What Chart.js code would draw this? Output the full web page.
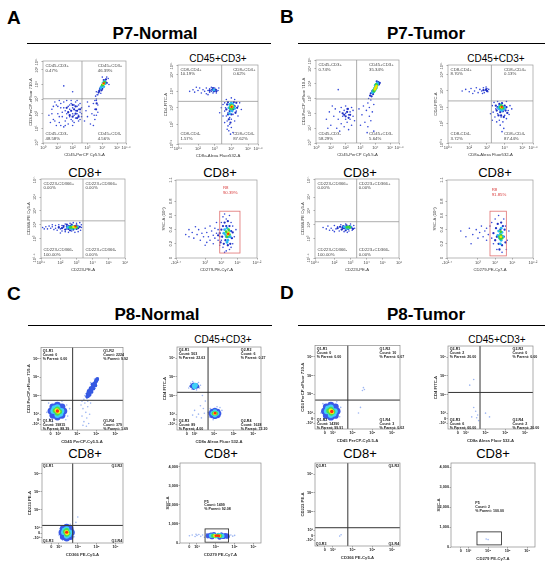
<!DOCTYPE html>
<html>
<head>
<meta charset="utf-8">
<script src="https://cdn.jsdelivr.net/npm/chart.js@4.4.1/dist/chart.umd.min.js"></script>
<style>
  body { margin: 0; background: #fff; width: 550px; height: 564px; position: relative; overflow: hidden; font-family: "Liberation Sans", Arial, sans-serif; }
  .t { position: absolute; white-space: nowrap; color: #000; line-height: 1; }
  .letter { font-weight: bold; font-size: 19px; }
  .panel { font-weight: bold; font-size: 17px; transform: translateX(-50%); }
  .sub { font-size: 10px; transform: translateX(-50%); }
  .sub8 { font-size: 13px; transform: translateX(-50%); }
  .rule { position: absolute; height: 0; border-top: 1.5px solid #000; }
</style>
</head>
<body>
<div class="t letter" style="left:7px;top:8px">A</div>
<div class="t panel" style="left:155px;top:24.6px">P7-Normal</div>
<div class="rule" style="left:27px;top:42.5px;width:244px"></div>
<div class="t letter" style="left:280px;top:7px">B</div>
<div class="t panel" style="left:426px;top:24.6px">P7-Tumor</div>
<div class="rule" style="left:298px;top:42.5px;width:247px"></div>
<div class="t letter" style="left:7px;top:284px">C</div>
<div class="t panel" style="left:157px;top:305.6px">P8-Normal</div>
<div class="rule" style="left:28px;top:324.5px;width:244px"></div>
<div class="t letter" style="left:280px;top:283px">D</div>
<div class="t panel" style="left:426px;top:305.6px">P8-Tumor</div>
<div class="rule" style="left:298px;top:324.5px;width:247px"></div>

<div class="t sub" style="left:218px;top:53.5px">CD45+CD3+</div>
<div class="t sub" style="left:496px;top:53.5px">CD45+CD3+</div>
<div class="t sub8" style="left:85px;top:166px">CD8+</div>
<div class="t sub8" style="left:220px;top:166px">CD8+</div>
<div class="t sub8" style="left:360px;top:166px">CD8+</div>
<div class="t sub8" style="left:495px;top:166px">CD8+</div>
<div class="t sub" style="left:223px;top:334.5px">CD45+CD3+</div>
<div class="t sub" style="left:497px;top:334.5px">CD45+CD3+</div>
<div class="t sub8" style="left:85px;top:447px">CD8+</div>
<div class="t sub8" style="left:221px;top:447px">CD8+</div>
<div class="t sub8" style="left:360px;top:447px">CD8+</div>
<div class="t sub8" style="left:493px;top:447px">CD8+</div>

<script>
// ---- tick values and labels ----
const logTicks1 = [0, 1, 2, 3, 4, 5, 5.6];
const logTicks2 = [0.8, 2, 3, 4, 5, 5.6];
const logTicks3x = [0.8, 2, 3, 4, 5, 6];
const logTicks3y = [1.6, 3, 4, 5, 6, 7.3];
const pdTicks = [1.2, 3, 4, 5, 6.2];
const pdLabels = ['-10²·⁴', '10³', '10⁴', '10⁵', '10⁶·²'];
const sscTicks = [0, 0.2, 0.4, 0.6, 0.8, 1.1];
const bxTicks = [2.6, 3, 4, 5, 6];
const bxLabels = ['0', '10³', '10⁴', '10⁵', '10⁶'];
const byTicks = [2.45, 2.7, 3, 4, 5, 6];
const byLabels = ['-10³', '0', '10³', '10⁴', '10⁵', '10⁶'];
const ssc2Ticks = [0, 1000, 2000, 3000, 4000];
const ssc2Labels = ['0', '1,000', '2,000', '3,000', '4,000'];

// ---- quadrant texts ----
const a1Quad = [['CD45-CD3+', '0.47%'], ['CD45+CD3+', '46.39%'], ['CD45-CD3-', '48.58%'], ['CD45+CD3-', '4.56%']];
const a2Quad = [['CD8-CD4+', '10.19%'], ['CD8+CD4+', '0.62%'], ['CD8-CD4-', '1.57%'], ['CD8+CD4-', '87.62%']];
const a3Quad = [['CD223-CD366+', '0.00%'], ['CD223+CD366+', '0.00%'], ['CD223-CD366-', '100.00%'], ['CD223+CD366-', '0.00%']];
const a4Gate = ['R8', '90.39%'];
const b1Quad = [['CD45-CD3+', '0.74%'], ['CD45+CD3+', '35.34%'], ['CD45-CD3-', '58.29%'], ['CD45+CD3-', '5.64%']];
const b2Quad = [['CD8-CD4+', '8.70%'], ['CD8+CD4+', '0.13%'], ['CD8-CD4-', '3.72%'], ['CD8+CD4-', '87.44%']];
const b3Quad = [['CD223-CD366+', '0.00%'], ['CD223+CD366+', '0.00%'], ['CD223-CD366-', '100.00%'], ['CD223+CD366-', '0.00%']];
const b4Gate = ['R8', '91.85%'];
const c1Quad = [['Q1-R1', 'Count: 0', '% Parent: 0.00'], ['Q1-R2', 'Count: 2224', '% Parent: 9.92'], ['Q1-R3', 'Count: 19815', '% Parent: 88.39'], ['Q1-R4', 'Count: 379', '% Parent: 1.69']];
const c2Quad = [['Q2-R1', 'Count: 503', '% Parent: 22.63'], ['Q2-R2', 'Count: 6', '% Parent: 0.27'], ['Q2-R3', 'Count: 89', '% Parent: 4.00'], ['Q2-R4', 'Count: 1628', '% Parent: 73.20']];
const c3Quad = [['Q3-R1'], ['Q3-R2'], ['Q3-R3'], ['Q3-R4']];
const c4Gate = ['P5', 'Count: 1499', '% Parent: 92.08'];
const d1Quad = [['Q1-R1', 'Count: 0', '% Parent: 0.00'], ['Q1-R2', 'Count: 10', '% Parent: 0.07'], ['Q1-R3', 'Count: 14390', '% Parent: 99.91'], ['Q1-R4', 'Count: 3', '% Parent: 0.02']];
const d2Quad = [['Q2-R1', 'Count: 2', '% Parent: 20.00'], ['Q2-R2', 'Count: 0', '% Parent: 0.00'], ['Q2-R3', 'Count: 6', '% Parent: 60.00'], ['Q2-R4', 'Count: 2', '% Parent: 20.00']];
const d3Quad = [['Q3-R1'], ['Q3-R2'], ['Q3-R3'], ['Q3-R4']];
const d4Gate = ['P5', 'Count: 2', '% Parent: 100.00'];

// ---- events (axis units) ----
// A1 CD45 vs CD3
const a1Sparse = [[0.4,1.9],[0.6,2.3],[0.7,1.6],[0.9,2.6],[1.0,2.0],[1.1,1.4],[1.2,2.4],[1.3,1.8],[1.4,2.8],[1.5,2.2],[1.5,1.5],[1.6,2.0],[1.7,2.5],[1.7,1.3],[1.8,1.8],[1.8,2.3],[1.9,2.7],[1.9,1.6],[2.0,2.0],[2.0,2.4],[2.1,1.4],[2.1,1.9],[2.1,2.6],[2.2,2.2],[2.2,1.7],[2.3,2.0],[2.3,2.5],[2.4,1.5],[2.4,2.3],[2.4,1.9],[2.5,2.1],[2.5,2.7],[2.5,1.6],[2.6,2.0],[1.6,2.9],[1.2,1.2],[0.8,2.8],[1.4,1.1],[2.0,1.2],[2.3,2.9],[0.5,1.4],[1.0,2.5],[1.3,2.1],[1.9,2.9],[0.9,1.2],[1.1,2.9],
  [0.6,2.0],[0.8,1.5],[1.1,1.8],[1.2,2.7],[1.4,2.4],[1.6,1.7],[1.8,2.6],[2.0,1.5],[2.2,2.8],[2.4,2.6],[2.6,1.8],[2.6,2.4],[1.5,1.2],[0.7,2.5],
  [2.8,1.5],[2.9,2.2],[3.0,1.8],[3.1,2.5],[3.2,1.3],[3.3,2.0],[3.4,2.7],[3.5,1.6],[3.5,2.3],[3.6,2.9],[3.6,1.9],[3.7,2.6],[3.4,1.2],[3.0,2.8],[3.55,3.2],[3.6,3.0],[3.65,3.3],[3.5,2.9],[3.7,2.1],[3.45,1.9],
  [3.6,3.5],[3.7,3.3],[3.8,3.6],[4.4,4.4],[4.3,4.5],[3.9,3.4],[4.45,4.0],[4.0,4.5],[2.0,3.5],[1.4,3.9]];
const a1Dense = [[1.7,2.1],[1.9,2.2],[2.0,1.8],[2.1,2.3],[2.2,2.0],[2.3,2.2],[2.4,1.8],[2.2,2.5],[1.8,1.9],[2.5,2.3],[2.0,2.6],[1.6,2.4],[2.3,1.7],[3.75,3.45],[3.8,3.55],[3.85,3.7],[3.9,3.8],[4.0,3.7],[4.2,4.2],[4.25,4.35],[4.1,4.3],[3.95,3.6],[4.3,4.1],[3.62,2.7],[3.58,2.3]];
const a1Cyan = [[3.9,3.75],[4.0,3.9],[4.05,4.1],[4.15,4.2],[4.1,3.85],[3.95,3.85],[4.2,4.05]];
const a1Green = [[4.0,3.95],[4.1,4.05],[4.15,4.15],[4.05,4.0]];
const a1Yellow = [[4.08,4.05]];
const a1Red = [[4.1,4.08]];

// A2 CD8a vs CD4
const a2Sparse = [[1.5,4.0],[1.7,4.1],[1.8,3.95],[2.0,4.05],[2.1,4.2],[2.2,3.9],[2.3,4.1],[2.4,4.0],[2.5,4.2],[2.5,3.85],[2.6,4.05],[2.7,4.15],[2.7,3.95],[2.8,4.25],[2.8,4.0],[2.9,3.9],[2.9,4.1],[3.0,4.2],[3.0,4.0],[3.1,4.1],[3.1,3.9],[3.2,4.05],[3.25,4.2],[2.6,3.8],[1.9,4.25],
  [3.5,3.2],[3.6,2.8],[3.6,3.3],[3.7,2.5],[3.65,3.0],[3.75,2.2],[3.8,1.9],[3.85,1.6],[3.9,2.0],[3.9,2.4],[3.8,2.7],[4.0,1.8],[4.0,2.3],[4.1,2.6],[4.2,2.2],[4.3,2.8],[4.4,3.1],[4.5,3.3],[4.4,2.5],[4.2,3.5],[3.7,3.5],[4.0,3.6],[3.5,2.5],[3.4,3.0],[3.3,2.7],[3.95,1.4],[3.75,1.7],[4.1,1.5],[4.6,2.9],[3.6,2.1]];
const a2Dense = [[2.7,4.05],[2.85,4.1],[2.95,4.0],[3.05,4.1],[2.9,4.2],[3.1,4.0],
  [3.7,2.9],[3.75,3.2],[3.8,2.6],[3.85,2.3],[3.9,2.8],[4.0,2.6],[4.1,2.9],[4.2,3.1],[4.3,3.3],[4.25,2.7],[3.95,2.1],[4.15,3.35],[3.8,3.35],[4.35,3.0]];
const a2Cyan = [[2.95,4.08],[3.85,3.0],[3.9,3.2],[3.95,2.9],[4.05,2.8],[4.1,3.2],[4.2,2.95],[4.0,3.3],[3.9,2.65],[4.15,3.05]];
const a2Green = [[3.95,3.05],[4.0,3.15],[4.05,2.95],[4.1,3.05],[3.95,2.95]];
const a2Yellow = [[4.0,3.05],[4.05,3.1]];
const a2Red = [[4.02,3.06]];

// A3 CD223 vs CD366
const a3Sparse = [[0.9,3.8],[1.1,3.85],[1.2,3.7],[1.3,3.9],[1.4,3.75],[1.5,3.85],[1.6,3.65],[1.7,3.95],[1.7,3.75],[1.8,3.6],[1.9,3.85],[1.9,4.0],[2.0,3.7],[2.1,3.55],[2.1,3.95],[2.2,3.8],[2.3,4.05],[2.3,3.5],[2.4,3.7],[2.5,3.95],[2.5,3.45],[2.6,4.1],[2.7,3.55],[2.8,4.15],[2.9,3.45],[3.0,4.1],[3.1,3.5],[3.1,3.9],[3.2,4.15],[3.25,3.6],[3.3,3.8],[3.3,4.0],[1.0,3.7],[1.5,4.0],[2.0,3.4]];
const a3Dense = [[1.9,3.8],[2.1,3.75],[2.2,3.9],[2.3,3.65],[2.4,3.85],[2.5,3.7],[2.6,3.9],[2.6,3.6],[2.7,4.0],[2.8,3.65],[2.9,3.9],[3.0,3.7],[3.0,3.95],[3.1,3.75],[3.2,3.85],[2.4,4.0]];
const a3Cyan = [[2.45,3.8],[2.55,3.85],[2.65,3.75],[2.75,3.9],[2.85,3.75],[2.95,3.85],[3.05,3.85],[2.7,3.7]];
const a3Green = [[2.7,3.82],[2.8,3.8],[2.9,3.85],[2.6,3.8],[3.0,3.8]];
const a3Yellow = [[2.8,3.85],[2.9,3.82]];
const a3Red = [[2.93,3.88]];

// A4 CD279 vs SSC
const a4Sparse = [[1.8,0.33],[2.0,0.3],[2.2,0.36],[2.3,0.28],[2.5,0.33],[2.6,0.4],[2.7,0.25],[2.8,0.35],[2.9,0.3],[3.0,0.42],[3.1,0.22],[3.1,0.36],[3.2,0.3],[3.3,0.45],[3.3,0.25],[3.4,0.38],[3.5,0.32],[3.5,0.2],[3.6,0.42],[3.6,0.28],[3.7,0.35],[3.7,0.5],[3.8,0.25],[3.8,0.4],[3.9,0.3],[3.9,0.18],[2.4,0.44],[3.0,0.18],[2.0,0.4],
  [4.0,0.5],[4.1,0.58],[4.2,0.62],[4.3,0.55],[4.5,0.6],[4.6,0.5],[4.7,0.45],[4.8,0.3],[4.7,0.2],[4.5,0.12],[4.3,0.1],[4.1,0.15],[4.0,0.25],[4.9,0.4],[4.2,0.08],[4.6,0.15]];
const a4Dense = [[3.9,0.35],[4.0,0.4],[4.05,0.3],[4.1,0.45],[4.15,0.2],[4.2,0.5],[4.3,0.45],[4.4,0.52],[4.5,0.45],[4.6,0.38],[4.65,0.28],[4.55,0.2],[4.4,0.18],[4.25,0.25],[4.7,0.36],[3.8,0.32],[3.95,0.22]];
const a4Cyan = [[4.15,0.35],[4.2,0.4],[4.3,0.3],[4.35,0.42],[4.45,0.3],[4.5,0.38],[4.4,0.25],[4.25,0.33],[4.55,0.3],[4.35,0.22]];
const a4Green = [[4.3,0.37],[4.4,0.35],[4.45,0.4],[4.35,0.3],[4.5,0.33]];
const a4Yellow = [[4.4,0.33],[4.45,0.36]];
const a4Red = [[4.42,0.34]];

// B1
const b1Sparse = [[0.7,1.6],[0.9,2.1],[1.0,1.2],[1.2,1.8],[1.3,2.3],[1.4,1.0],[1.5,1.6],[1.6,2.1],[1.7,1.3],[1.7,2.4],[1.8,1.8],[1.9,2.2],[1.9,1.1],[2.0,1.6],[2.0,2.0],[2.1,2.3],[2.1,1.4],[2.2,1.9],[2.2,0.9],[2.3,2.1],[2.3,1.6],[2.4,2.4],[2.4,1.2],[2.5,1.8],[2.5,2.2],[2.6,1.5],[1.1,2.5],[1.6,0.8],[2.0,2.5],[0.8,1.0],
  [3.0,1.2],[3.1,1.9],[3.2,2.5],[3.3,1.4],[3.4,2.2],[3.5,2.7],[3.5,1.1],[3.6,1.8],[3.6,2.4],[3.7,2.9],[3.7,1.5],[3.8,2.1],[3.9,0.8],[3.45,0.7],[3.55,3.0],[3.65,3.2],[3.9,2.6],[2.9,2.3],[1.5,3.6]];
const b1Dense = [[1.8,2.0],[2.0,1.8],[2.1,2.1],[2.2,1.7],[2.3,1.9],[1.9,1.9],[2.15,2.3],[3.65,3.2],[3.7,3.35],[3.75,3.15],[3.8,3.5],[4.2,4.1],[4.25,3.95],[4.3,4.05],[4.1,4.15],[3.85,3.3],[3.9,3.6]];
const b1Cyan = [[3.8,3.4],[3.85,3.55],[3.9,3.45],[3.95,3.7],[4.0,3.6],[4.05,3.85],[4.1,3.8],[4.15,3.95],[4.0,3.9],[4.15,4.05]];
const b1Green = [[3.9,3.55],[3.95,3.6],[4.0,3.75],[4.05,3.7],[4.1,3.9],[4.05,3.95],[3.92,3.5]];
const b1Yellow = [[4.0,3.7],[4.05,3.78],[4.08,3.85],[3.97,3.62]];
const b1Red = [];

// B2
const b2Sparse = [[1.6,4.0],[1.8,4.1],[2.0,3.95],[2.1,4.15],[2.3,4.0],[2.4,4.2],[2.5,3.9],[2.6,4.1],[2.7,4.0],[2.8,4.2],[2.85,3.9],[2.9,4.05],[3.0,4.15],[3.05,3.95],[3.1,4.1],[2.2,3.85],[2.95,4.25],[2.75,3.85],
  [3.3,3.1],[3.35,2.7],[3.4,3.3],[3.45,2.4],[3.5,2.9],[3.55,2.1],[3.6,2.6],[3.6,3.35],[3.7,2.2],[3.75,1.9],[3.8,2.4],[3.9,2.1],[4.0,2.5],[4.1,2.3],[4.2,2.8],[4.3,3.1],[4.25,2.55],[4.1,3.35],[3.95,1.7],[3.85,1.5],[4.4,2.9],[3.2,2.6],[3.3,2.2]];
const b2Dense = [[2.8,4.05],[2.95,4.1],[3.0,4.0],[3.5,3.1],[3.55,2.8],[3.6,3.0],[3.65,2.5],[3.7,3.2],[3.75,2.7],[3.8,2.5],[3.9,2.75],[3.95,2.4],[4.0,3.1],[4.05,2.8],[4.1,3.0],[4.15,2.65],[3.85,3.25],[3.7,2.9]];
const b2Cyan = [[3.65,2.95],[3.7,3.05],[3.75,2.85],[3.8,3.15],[3.9,3.05],[3.95,2.9],[4.0,2.95],[3.85,2.8]];
const b2Green = [[3.75,3.0],[3.8,2.95],[3.85,3.05],[3.9,2.95],[3.8,3.1]];
const b2Yellow = [[3.82,3.0]];
const b2Red = [[3.84,3.02]];

// B3
const b3Sparse = [[1.3,3.8],[1.5,3.7],[1.6,3.9],[1.8,3.75],[1.9,3.6],[2.0,3.95],[2.1,3.7],[2.2,3.85],[2.3,3.55],[2.4,4.0],[2.5,3.7],[2.6,3.5],[2.7,4.05],[2.9,3.55],[3.0,4.05],[3.1,3.6],[3.2,3.95],[3.25,3.75],[1.7,3.6],[2.0,3.5],[2.8,3.45]];
const b3Dense = [[2.2,3.75],[2.35,3.85],[2.45,3.65],[2.55,3.9],[2.6,3.75],[2.7,3.6],[2.75,3.95],[2.85,3.7],[2.95,3.9],[3.05,3.8],[3.15,3.7],[2.5,3.8],[2.9,3.8]];
const b3Cyan = [[2.6,3.85],[2.7,3.8],[2.8,3.85],[2.9,3.75],[3.0,3.85],[2.75,3.72]];
const b3Green = [[2.78,3.82],[2.88,3.85],[2.95,3.8]];
const b3Yellow = [];
const b3Red = [];

// B4
const b4Sparse = [[2.0,0.38],[2.3,0.3],[2.5,0.42],[2.7,0.33],[2.9,0.4],[3.0,0.28],[3.1,0.36],[3.2,0.45],[3.3,0.3],[3.4,0.38],[3.5,0.25],[3.5,0.42],[3.6,0.33],[3.7,0.45],[3.8,0.28],[3.8,0.5],[3.9,0.2],[4.0,0.55],[4.1,0.12],[4.2,0.6],[4.5,0.55],[4.6,0.45],[4.7,0.25],[4.65,0.12],[4.4,0.08],[4.8,0.38],[2.6,0.2]];
const b4Dense = [[3.9,0.35],[4.0,0.25],[4.05,0.42],[4.1,0.3],[4.15,0.48],[4.2,0.2],[4.3,0.4],[4.35,0.5],[4.4,0.18],[4.5,0.3],[4.55,0.4],[4.45,0.45],[4.6,0.22],[4.25,0.12]];
const b4Cyan = [[4.15,0.32],[4.2,0.38],[4.25,0.28],[4.3,0.34],[4.35,0.25],[4.4,0.36],[4.45,0.3],[4.3,0.2],[4.35,0.42]];
const b4Green = [[4.25,0.3],[4.3,0.27],[4.35,0.32],[4.4,0.28],[4.32,0.37]];
const b4Yellow = [[4.33,0.3]];
const b4Red = [];

// C1
const c1Sparse = [[4.2,3.5],[4.25,2.9],[4.3,3.3],[4.35,2.6],[4.4,3.6],[4.45,3.1],[4.5,2.8],[4.55,3.4],[4.6,2.5],[4.35,3.8],[4.4,4.0],[4.5,3.85],[4.65,3.0],[4.7,3.6],[4.3,2.4],[4.48,2.35],[4.25,3.7],[4.55,3.7],[4.45,4.1],[4.9,4.9],[5.1,4.95],[4.5,4.2],[4.95,4.4],[4.7,4.7],
  [2.4,3.1],[2.5,3.6],[3.4,2.7],[3.6,3.3],[2.7,2.6],[3.2,3.7],[3.5,2.9],[2.55,2.75],[3.45,3.5]];
const c1Diag = [[4.52,3.95],[4.58,4.05],[4.62,4.15],[4.68,4.25],[4.72,4.35],[4.78,4.45],[4.84,4.55],[4.9,4.65],[4.95,4.72],[5.0,4.82],[4.65,4.05],[4.75,4.2],[4.85,4.38],[4.95,4.55],[4.6,4.25],[4.7,4.4],[4.8,4.6],[5.05,4.9],
  [4.55,4.1],[4.66,4.2],[4.74,4.3],[4.82,4.5],[4.88,4.6],[4.98,4.78],[4.63,4.1],[4.76,4.38],[4.92,4.62],[4.57,3.98],[5.02,4.85]];
const c1Blue = [[2.62,3.17],[3.3,3.17],[2.96,3.49],[2.96,2.85],[2.72,3.4],[3.2,3.4],[2.72,2.94],[3.2,2.94]];
const c1Cyan = [[2.75,3.17],[3.17,3.17],[2.96,3.38],[2.96,2.96],[2.81,3.32],[3.11,3.02]];
const c1Green = [[2.85,3.2],[3.07,3.14],[2.96,3.28],[2.96,3.06]];
const c1Yellow = [[2.93,3.2],[3.0,3.14]];
const c1Red = [[2.96,3.17]];

// C2
const c2Sparse = [[2.75,4.5],[2.8,4.65],[2.85,4.35],[3.2,4.7],[3.25,4.4],[3.3,4.55],[2.9,4.75],[3.1,4.3],[2.7,4.4],[3.15,4.6],
  [3.7,3.1],[3.8,3.3],[4.3,2.9],[4.4,3.2],[3.75,2.85],[4.3,3.35],[3.95,2.7],[4.15,3.4],
  [3.0,3.2],[3.2,3.0],[3.35,2.8],[3.45,3.3],[3.1,2.85],[3.5,3.05],[3.3,3.45],[2.9,2.95],[3.4,4.0],[3.55,3.7]];
const c2Diag = [[2.85,4.5],[2.95,4.6],[3.05,4.45],[3.1,4.55],[2.95,4.4],[3.15,4.48],[2.9,4.55]];
const c2Blue = [[3.85,3.04],[4.23,3.04],[4.04,3.2],[4.04,2.88],[3.9,3.15],[4.18,2.93],[3.9,2.93],[4.18,3.15]];
const c2Cyan = [[2.98,4.52],[3.05,4.55],[3.0,4.47],[3.93,3.04],[4.15,3.04],[4.04,3.13],[4.04,2.95]];
const c2Green = [[3.98,3.04],[4.1,3.04]];
const c2Yellow = [[4.04,3.04]];
const c2Red = [[4.05,3.05]];

// C3
const c3Sparse = [[3.0,2.6],[3.1,3.1],[3.75,2.9],[3.8,2.5],[3.2,2.3],[3.6,3.2],[3.9,3.3],[4.0,3.6],[3.05,2.95],[3.7,2.35]];
const c3Blue = [[3.15,2.73],[3.67,2.73],[3.41,3.05],[3.41,2.41],[3.22,2.95],[3.6,2.95],[3.22,2.5],[3.6,2.5]];
const c3Cyan = [[3.26,2.75],[3.56,2.75],[3.41,2.92],[3.41,2.55],[3.3,2.85],[3.52,2.62]];
const c3Green = [[3.34,2.78],[3.48,2.7],[3.41,2.85],[3.41,2.63]];
const c3Yellow = [[3.4,2.76],[3.43,2.7]];
const c3Red = [[3.41,2.75]];

// C4
const c4Sparse = [[2.6,380],[2.75,420],[2.9,340],[3.0,400],[3.1,450],[3.2,350],[3.3,420],[3.4,300],[3.5,480],[3.6,360],[3.7,250],[3.8,500],[4.3,520],[4.4,250],[4.6,470],[4.7,300],[4.8,420],[4.9,360],[5.0,400],[4.2,200],[3.55,280],[2.95,460]];
const c4Blue = [[3.6,380],[3.75,420],[3.8,330],[4.3,420],[4.4,340],[4.5,390],[4.6,360],[3.9,440],[4.2,320]];
const c4Cyan = [[3.75,380],[3.9,400],[4.0,350],[4.25,390],[4.35,370],[4.15,420]];
const c4Green = [[3.85,380],[4.1,390],[4.25,370],[3.95,360]];
const c4Yellow = [[3.95,380],[4.2,375]];
const c4Red = [[4.0,380],[4.1,378],[4.18,375]];

// D1
const d1Sparse = [[2.4,3.0],[2.5,3.5],[3.35,2.8],[3.4,3.3],[2.6,2.6],[3.2,3.6],[4.5,4.2],[4.55,4.35],[4.6,4.25],[4.3,3.0],[4.4,3.3]];
const d1Blue = [[2.58,3.1],[3.22,3.1],[2.9,3.42],[2.9,2.78],[2.67,3.33],[3.13,3.33],[2.67,2.87],[3.13,2.87]];
const d1Cyan = [[2.7,3.1],[3.1,3.1],[2.9,3.3],[2.9,2.9],[2.76,3.24],[3.04,2.96]];
const d1Green = [[2.8,3.12],[3.0,3.08],[2.9,3.2],[2.92,3.0]];
const d1Yellow = [[2.9,3.12],[2.96,3.06]];
const d1Red = [[2.95,3.08]];

// D2, D3, D4
const d2Sparse = [[3.2,4.5],[3.4,4.8],[3.3,2.8],[3.5,3.1],[3.6,2.9],[3.65,2.6],[3.4,3.3],[3.55,2.75],[4.0,3.0],[4.2,2.8]];
const d3Sparse = [[3.35,2.68],[3.42,2.75]];
const d4Sparse = [[3.9,400],[4.0,370]];

// ---- drawing ----
const FONT = '"Liberation Sans", Arial, sans-serif';
const YW = 15, XH = 14, PT = 3, PR = 8;
const SUP = { '0': '⁰', '1': '¹', '2': '²', '3': '³', '4': '⁴', '5': '⁵', '6': '⁶', '7': '⁷', '8': '⁸', '9': '⁹', '.': '·', '-': '⁻' };
const pow = v => '10' + String(v).split('').map(c => SUP[c] || c).join('');

const A = { sparse: '#3348d8', dense: '#1f2fc4', cyan: '#2bb8f0', green: '#3cd23c', yellow: '#f2e600', red: '#ff2a00' };
const C = { sparse: '#9db6f2', diag: '#3558e2', blue: '#3a5ae8', cyan: '#3fd0f5', green: '#4be04b', yellow: '#fbef1a', red: '#ff2a10' };

function aLayers(s, d, c, g, y, r) {
  return [
    { data: s, color: A.sparse, r: 0.8 }, { data: d, color: A.dense, r: 1.15 },
    { data: c, color: A.cyan, r: 1.4 }, { data: g, color: A.green, r: 1.4 },
    { data: y, color: A.yellow, r: 1.3 }, { data: r, color: A.red, r: 1.1 }
  ];
}
function cLayers(s, diag, b, c, g, y, r, k) {
  return [
    { data: s, color: C.sparse, r: 0.8 }, { data: diag, color: C.diag, r: 1.9 },
    { data: b, color: C.blue, r: 3.4 * k }, { data: c, color: C.cyan, r: 3.0 * k },
    { data: g, color: C.green, r: 2.6 * k }, { data: y, color: C.yellow, r: 2.2 * k },
    { data: r, color: C.red, r: 1.7 * k }
  ];
}
function quadA(q, tr, bot) {
  return [
    { fx: 0.03, fy: 0.03, lines: q[0] }, { fx: tr, fy: 0.03, lines: q[1] },
    { fx: 0.03, fy: bot, lines: q[2] }, { fx: tr, fy: bot, lines: q[3] }
  ];
}
function quadC(q) {
  return [
    { fx: 0.02, fy: 0.02, lines: q[0] }, { fx: 0.76, fy: 0.02, lines: q[1] },
    { fx: 0.02, fy: 0.875, lines: q[2] }, { fx: 0.76, fy: 0.875, lines: q[3] }
  ];
}
function quadC3(q) {
  return [
    { fx: 0.01, fy: 0.01, lines: q[0] }, { fx: 0.99, fy: 0.01, lines: q[1], align: 'right' },
    { fx: 0.01, fy: 0.955, lines: q[2] }, { fx: 0.99, fy: 0.955, lines: q[3], align: 'right' }
  ];
}

const ax1 = t => [0, 5.6, logTicks1, logTicks1.map(pow), t];
const ax2 = t => [0.8, 5.6, logTicks2, logTicks2.map(pow), t];
const ax3x = t => [0.8, 6, logTicks3x, logTicks3x.map(pow), t];
const ax3y = t => [1.6, 7.3, logTicks3y, logTicks3y.map(pow), t];
const ax4x = t => [1.2, 6.2, pdTicks, pdLabels, t];
const ax4y = t => [0, 1.1, sscTicks, sscTicks.map(String), t];
const bx = t => [2.1, 6.4, bxTicks, bxLabels, t];
const by = t => [2.15, 6.6, byTicks, byLabels, t];
const by4 = t => [0, 4200, ssc2Ticks, ssc2Labels, t];

const plots = [
  { box: [43, 61, 83, 82], st: 'a', x: ax1('CD45-PerCP Cy5.5-A'), y: ax1('CD3-PerCP-eFluor 710-A'), gx: 2.63, gy: 3.02,
    layers: aLayers(a1Sparse, a1Dense, a1Cyan, a1Green, a1Yellow, a1Red), labels: quadA(a1Quad, 0.66, 0.86) },
  { box: [178, 65, 80, 79], st: 'a', x: ax2('CD8a-Alexa Fluor532-A'), y: ax2('CD4-FITC-A'), gx: 3.42, gy: 3.39,
    layers: aLayers(a2Sparse, a2Dense, a2Cyan, a2Green, a2Yellow, a2Red), labels: quadA(a2Quad, 0.69, 0.85) },
  { box: [41, 179, 84, 79], st: 'a', x: ax3x('CD223-PE-A'), y: ax3y('CD366-PE Cy5-A'), gx: 3.4, gy: 4.28,
    layers: aLayers(a3Sparse, a3Dense, a3Cyan, a3Green, a3Yellow, a3Red), labels: quadA(a3Quad, 0.53, 0.87) },
  { box: [176, 180, 81, 78], st: 'a', x: ax4x('CD279-PE-Cy7-A'), y: ax4y('SSC-A (10⁶)'), rect: [3.9, 5.15, 0.07, 0.66], rectColor: '#e07070',
    layers: aLayers(a4Sparse, a4Dense, a4Cyan, a4Green, a4Yellow, a4Red), labels: [{ fx: 0.58, fy: 0.07, lines: a4Gate, color: '#d83a3a' }] },
  { box: [316, 60, 83, 83], st: 'a', x: ax1('CD45-PerCP Cy5.5-A'), y: ax1('CD3-PerCP-eFluor 710-A'), gx: 2.74, gy: 2.97,
    layers: aLayers(b1Sparse, b1Dense, b1Cyan, b1Green, b1Yellow, b1Red), labels: quadA(b1Quad, 0.64, 0.86) },
  { box: [448, 65, 85, 78], st: 'a', x: ax2('CD8a-Alexa Fluor532-A'), y: ax2('CD4-FITC-A'), gx: 3.25, gy: 3.39,
    layers: aLayers(b2Sparse, b2Dense, b2Cyan, b2Green, b2Yellow, b2Red), labels: quadA(b2Quad, 0.66, 0.86) },
  { box: [315, 179, 84, 79], st: 'a', x: ax3x('CD223-PE-A'), y: ax3y('CD366-PE Cy5-A'), gx: 3.38, gy: 4.22,
    layers: aLayers(b3Sparse, b3Dense, b3Cyan, b3Green, b3Yellow, b3Red), labels: quadA(b3Quad, 0.52, 0.87) },
  { box: [447, 180, 86, 78], st: 'a', x: ax4x('CD279-PE-Cy7-A'), y: ax4y('SSC-A (10⁶)'), rect: [3.7, 4.65, 0.03, 0.66], rectColor: '#e07070',
    layers: aLayers(b4Sparse, b4Dense, b4Cyan, b4Green, b4Yellow, b4Red), labels: [{ fx: 0.52, fy: 0.1, lines: b4Gate, color: '#d83a3a' }] },
  { box: [41, 347, 82, 83], st: 'c', x: bx('CD45 PerCP-Cy5.5-A'), y: by('CD3 PerCP-eFluor 710-A'), gx: 3.76, gy: 3.75,
    layers: cLayers(c1Sparse, c1Diag, c1Blue, c1Cyan, c1Green, c1Yellow, c1Red, 1), labels: quadC(c1Quad) },
  { box: [177, 347, 84, 83], st: 'c', x: bx('CD8a Alexa Fluor 532-A'), y: by('CD4 FITC-A'), gx: 3.69, gy: 4.17,
    layers: cLayers(c2Sparse, c2Diag, c2Blue, c2Cyan, c2Green, c2Yellow, c2Red, 0.8), labels: quadC(c2Quad) },
  { box: [42, 463, 81, 80], st: 'c', x: bx('CD366 PE-Cy5-A'), y: by('CD223 PE-A'), gx: 3.73, gy: 3.13,
    layers: cLayers(c3Sparse, [], c3Blue, c3Cyan, c3Green, c3Yellow, c3Red, 0.95), labels: quadC3(c3Quad) },
  { box: [180, 463, 81, 80], st: 'c', x: bx('CD279 PE-Cy7-A'), y: by4('SSC-A'), rect: [3.43, 4.68, 42, 740], rectColor: '#222',
    layers: cLayers(c4Sparse, [], c4Blue, c4Cyan, c4Green, c4Yellow, c4Red, 0.75), labels: [{ fx: 0.3, fy: 0.46, lines: c4Gate }] },
  { box: [315, 345, 85, 84], st: 'c', x: bx('CD45 PerCP-Cy5.5-A'), y: by('CD3 PerCP-eFluor 710-A'), gx: 3.76, gy: 3.69,
    layers: cLayers(d1Sparse, [], d1Blue, d1Cyan, d1Green, d1Yellow, d1Red, 1), labels: quadC(d1Quad) },
  { box: [448, 346, 85, 83], st: 'c', x: bx('CD8a Alexa Fluor 532-A'), y: by('CD4 FITC-A'), gx: 3.72, gy: 4.11,
    layers: cLayers(d2Sparse, [], [], [], [], [], [], 1), labels: quadC(d2Quad) },
  { box: [315, 463, 85, 83], st: 'c', x: bx('CD366 PE-Cy5-A'), y: by('CD223 PE-A'), gx: 3.76, gy: 3.13,
    layers: cLayers(d3Sparse, [], [], [], [], [], [], 1), labels: quadC3(d3Quad) },
  { box: [451, 463, 84, 84], st: 'c', x: bx('CD279 PE-Cy7-A'), y: by4('SSC-A'), rect: [3.43, 4.68, 105, 756], rectColor: '#222',
    layers: cLayers(d4Sparse, [], [], [], [], [], [], 1), labels: [{ fx: 0.29, fy: 0.46, lines: d4Gate }] }
];

// gate lines, frame and quadrant texts, drawn on top of the events
function drawGates(chart, p) {
  const { ctx, chartArea: a, scales: { x, y } } = chart;
  const isA = p.st === 'a';
  ctx.save();
  ctx.lineWidth = isA ? 0.7 : 1;
  ctx.strokeStyle = isA ? '#8a8a8a' : '#333';
  ctx.beginPath();
  if (p.gx != null) { const px = x.getPixelForValue(p.gx); ctx.moveTo(px, a.top); ctx.lineTo(px, a.bottom); }
  if (p.gy != null) { const py = y.getPixelForValue(p.gy); ctx.moveTo(a.left, py); ctx.lineTo(a.right, py); }
  ctx.stroke();
  if (p.rect) {
    const [x0, x1, y0, y1] = p.rect;
    const l = x.getPixelForValue(x0), r = x.getPixelForValue(x1);
    const t = y.getPixelForValue(y1), b = y.getPixelForValue(y0);
    ctx.strokeStyle = p.rectColor;
    ctx.lineWidth = 0.8;
    ctx.strokeRect(l, t, r - l, b - t);
  }
  ctx.strokeStyle = isA ? '#9a9a9a' : '#8a8a8a';
  ctx.lineWidth = 0.7;
  ctx.strokeRect(a.left, a.top, a.right - a.left, a.bottom - a.top);
  const size = isA ? 4.3 : 3.6, lh = isA ? 4.8 : 3.9;
  ctx.font = (isA ? '' : 'bold ') + size + 'px ' + FONT;
  ctx.textBaseline = 'top';
  p.labels.forEach(lb => {
    ctx.fillStyle = lb.color || (isA ? '#444' : '#222');
    ctx.textAlign = lb.align || 'left';
    const px = a.left + lb.fx * (a.right - a.left), py = a.top + lb.fy * (a.bottom - a.top);
    lb.lines.forEach((s, i) => ctx.fillText(s, px, py + i * lh));
  });
  ctx.restore();
}

function axis(def, side, st) {
  const [min, max, vals, labels, title] = def;
  const rot = side === 'y' && st === 'a';
  return {
    type: 'linear', min, max,
    afterBuildTicks: s => { s.ticks = vals.map(v => ({ value: v })); },
    afterFit: s => { if (side === 'x') s.height = XH; else s.width = YW; },
    ticks: {
      autoSkip: false, minRotation: rot ? 90 : 0, maxRotation: rot ? 90 : 0,
      crossAlign: rot ? 'center' : 'near', padding: 0.5,
      color: st === 'a' ? '#444' : '#222',
      font: { size: st === 'a' ? 4 : 3.8, weight: st === 'a' ? 'normal' : 'bold', family: FONT },
      callback: (v, i) => labels[i]
    },
    grid: { drawOnChartArea: false, tickLength: 1.5, color: '#555', lineWidth: 0.5 },
    border: { display: false },
    title: { display: true, text: title, color: '#333', font: { size: 4.2, family: FONT, weight: st === 'a' ? 'normal' : 'bold' }, padding: 0 }
  };
}

plots.forEach((p, i) => {
  const [l, t, w, h] = p.box;
  const cv = document.createElement('canvas');
  cv.width = YW + w + PR;
  cv.height = PT + h + XH;
  cv.style.cssText = 'position:absolute;left:' + (l - YW) + 'px;top:' + (t - PT) + 'px';
  document.body.appendChild(cv);
  // Chart.js paints the first dataset last, so the densest layer goes first
  const layers = p.layers.slice().reverse();
  new Chart(cv, {
    type: 'scatter',
    data: {
      datasets: layers.map(L => ({
        data: L.data.map(([x, y]) => ({ x, y })),
        pointRadius: L.r, pointBackgroundColor: L.color, pointBorderWidth: 0,
        pointHoverRadius: 0, pointHitRadius: 0
      }))
    },
    options: {
      responsive: false, animation: false, events: [],
      layout: { padding: { left: 0, top: PT, right: PR, bottom: 0 } },
      plugins: { legend: { display: false }, tooltip: { enabled: false } },
      scales: { x: axis(p.x, 'x', p.st), y: axis(p.y, 'y', p.st) }
    },
    plugins: [{ id: 'gates' + i, afterDatasetsDraw: chart => drawGates(chart, p) }]
  });
});
</script>
</body>
</html>
